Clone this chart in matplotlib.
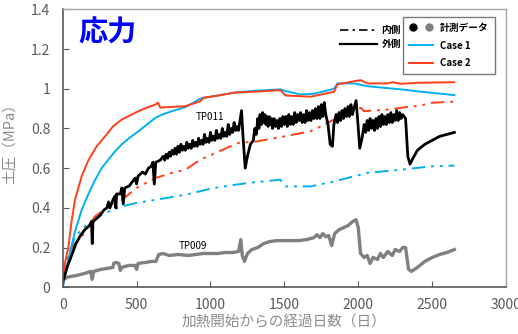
import matplotlib
matplotlib.use("Agg")
import matplotlib.pyplot as plt
from matplotlib.lines import Line2D
from matplotlib.legend_handler import HandlerTuple

plt.rcParams['font.family'] = ['Noto Sans CJK JP', 'DejaVu Sans']

# ---------------- data ----------------
case1_days = [0, 38, 83, 129, 174, 219, 264, 309, 355, 400, 456, 513, 570, 626, 680, 739, 830,
              931, 1000, 1157, 1300, 1474, 1500, 1610, 1700, 1836, 1859, 1971, 2062, 2200, 2288,
              2424, 2492, 2650]
case1_vals = [0.0, 0.14, 0.28, 0.39, 0.47, 0.54, 0.60, 0.643, 0.685, 0.72, 0.755, 0.786, 0.82,
              0.853, 0.872, 0.887, 0.907, 0.95, 0.96, 0.98, 0.99, 0.997, 0.99, 0.971, 0.975, 1.0,
              1.027, 1.027, 1.013, 1.003, 0.997, 0.985, 0.98, 0.968]

case2_days = [0, 15, 38, 60, 83, 129, 174, 230, 287, 340, 400, 456, 513, 570, 626, 645, 660, 700,
              830, 931, 952, 1050, 1157, 1300, 1474, 1508, 1678, 1836, 1859, 1971, 2017, 2062,
              2198, 2232, 2288, 2401, 2650]
case2_vals = [0.0, 0.12, 0.20, 0.33, 0.44, 0.56, 0.64, 0.71, 0.76, 0.81, 0.845, 0.866, 0.887,
              0.905, 0.92, 0.93, 0.905, 0.907, 0.912, 0.937, 0.955, 0.965, 0.98, 0.985, 0.993,
              0.966, 0.96, 0.985, 1.022, 1.038, 1.043, 1.027, 1.027, 1.033, 1.025, 1.03, 1.033]

case2_in_days = [0, 38, 83, 129, 174, 219, 300, 400, 500, 626, 739, 830, 931, 1000, 1135, 1191,
                 1316, 1500, 1678, 1746, 1836, 2017, 2039, 2198, 2288, 2424, 2492, 2650]
case2_in_vals = [0.0, 0.17, 0.22, 0.255, 0.31, 0.357, 0.40, 0.44, 0.50, 0.55, 0.576, 0.592,
                 0.643, 0.665, 0.71, 0.727, 0.735, 0.76, 0.786, 0.81, 0.845, 0.904, 0.887,
                 0.895, 0.904, 0.916, 0.929, 0.935]

case1_in_days = [0, 40, 83, 129, 174, 230, 287, 400, 500, 626, 830, 1022, 1248, 1474, 1490,
                 1508, 1678, 1836, 2062, 2288, 2492, 2650]
case1_in_vals = [0.0, 0.16, 0.255, 0.29, 0.323, 0.35, 0.374, 0.407, 0.425, 0.44, 0.466, 0.50,
                 0.525, 0.542, 0.52, 0.508, 0.508, 0.533, 0.576, 0.592, 0.609, 0.613]

tp011_days = [0, 10, 30, 60, 90, 120, 150, 180, 195, 200, 205, 220, 250, 280, 300, 310, 320, 340,
              355, 360, 365, 390, 400, 410, 420, 450, 470, 490, 500, 510, 540, 560, 580, 600,
              610, 620, 630, 660, 680, 690, 700, 710, 720, 730, 740, 750, 760, 770, 780, 790,
              800, 810, 820, 830, 840, 850, 860, 870, 880, 890, 900, 910, 920, 930, 940, 950,
              960, 970, 980, 990, 1000, 1010, 1020, 1030, 1040, 1050, 1060, 1070, 1080, 1090,
              1100, 1110, 1120, 1130, 1140, 1150, 1160, 1170, 1180, 1190,
              1200, 1210, 1220, 1235, 1250, 1270, 1290, 1300, 1310, 1320, 1328, 1335, 1345,
              1352, 1360, 1368, 1375, 1382, 1390, 1398, 1405, 1412, 1420, 1430, 1440, 1450,
              1460, 1470, 1480, 1490, 1500, 1510, 1520, 1530, 1540, 1550, 1560, 1570, 1580,
              1590, 1600, 1610, 1620, 1630, 1640, 1650, 1660, 1670, 1680, 1690, 1700, 1710,
              1720, 1730, 1740, 1750, 1760, 1770, 1780, 1795, 1810, 1825, 1835, 1850, 1860,
              1870, 1880, 1890, 1900, 1910, 1920, 1930, 1940, 1950, 1960, 1970, 1985, 1995,
              2010, 2025, 2040, 2050, 2060, 2070, 2080, 2090, 2100, 2110, 2120, 2130, 2140,
              2150, 2160, 2170, 2180, 2190, 2200, 2210, 2220, 2230, 2240, 2250, 2260, 2270,
              2280, 2290, 2300, 2320, 2335, 2350, 2370, 2400, 2450, 2500, 2550, 2600, 2650]
tp011_vals = [0.03, 0.05, 0.10, 0.16, 0.22, 0.26, 0.29, 0.31, 0.33, 0.22, 0.33, 0.34, 0.36, 0.39,
              0.40, 0.43, 0.40, 0.44, 0.46, 0.40, 0.47, 0.47, 0.50, 0.42, 0.50, 0.51, 0.53, 0.55,
              0.52, 0.56, 0.58, 0.57, 0.60, 0.61, 0.63, 0.52, 0.63, 0.64, 0.66, 0.64, 0.67, 0.65,
              0.68, 0.66, 0.69, 0.67, 0.70, 0.67, 0.71, 0.68, 0.72, 0.69, 0.71, 0.69, 0.73, 0.70,
              0.72, 0.70, 0.74, 0.71, 0.73, 0.71, 0.75, 0.72, 0.74, 0.72, 0.77, 0.73, 0.75, 0.73,
              0.78, 0.74, 0.76, 0.74, 0.79, 0.75, 0.77, 0.75, 0.80, 0.76, 0.78, 0.76, 0.82, 0.77,
              0.80, 0.78, 0.83, 0.79, 0.81, 0.79,
              0.84, 0.89, 0.76, 0.60, 0.66, 0.72, 0.74, 0.80, 0.77, 0.85, 0.80, 0.87, 0.82,
              0.88, 0.83, 0.87, 0.82, 0.86, 0.81, 0.86, 0.82, 0.85, 0.80, 0.85, 0.81, 0.84,
              0.80, 0.85, 0.81, 0.86, 0.82, 0.86, 0.81, 0.87, 0.82, 0.86, 0.82, 0.88, 0.83,
              0.87, 0.84, 0.88, 0.83, 0.87, 0.83, 0.89, 0.84, 0.88, 0.84, 0.89, 0.85, 0.90,
              0.85, 0.91, 0.85, 0.92, 0.86, 0.93, 0.87, 0.82, 0.72, 0.71, 0.82, 0.87, 0.83,
              0.88, 0.84, 0.89, 0.85, 0.90, 0.86, 0.91, 0.86, 0.92, 0.87, 0.90, 0.94, 0.85,
              0.70, 0.75, 0.82, 0.78, 0.84, 0.79, 0.85, 0.80, 0.84, 0.79, 0.85, 0.80, 0.86,
              0.81, 0.87, 0.82, 0.86, 0.82, 0.87, 0.83, 0.88, 0.83, 0.87, 0.84, 0.89, 0.84,
              0.88, 0.85, 0.87, 0.85, 0.66, 0.62, 0.65, 0.69, 0.72, 0.74, 0.76, 0.77, 0.78]

tp009_days = [0, 30, 60, 100, 150, 190, 200, 210, 260, 300, 340, 345, 360, 380, 390, 400, 450,
              490, 500, 510, 560, 600, 630, 650, 680, 720, 780, 850, 900, 950, 1000, 1050, 1100,
              1150, 1190, 1205, 1215, 1230, 1250, 1280, 1320, 1360, 1400, 1450, 1500, 1550, 1600,
              1650, 1700, 1720, 1740, 1760, 1780, 1800, 1820, 1840, 1870, 1900, 1930, 1960, 1985,
              2000, 2015, 2040, 2060, 2080, 2100, 2130, 2150, 2170, 2200, 2230, 2250, 2280, 2300,
              2320, 2340, 2360, 2400, 2450, 2500, 2550, 2600, 2650]
tp009_vals = [0.035, 0.05, 0.055, 0.06, 0.07, 0.08, 0.04, 0.08, 0.09, 0.095, 0.10, 0.12, 0.125,
              0.12, 0.085, 0.10, 0.11, 0.11, 0.09, 0.12, 0.125, 0.13, 0.13, 0.165, 0.17, 0.16,
              0.165, 0.16, 0.165, 0.17, 0.17, 0.17, 0.175, 0.175, 0.18, 0.24, 0.16, 0.13, 0.17,
              0.19, 0.20, 0.22, 0.23, 0.235, 0.235, 0.235, 0.235, 0.24, 0.25, 0.265, 0.25, 0.27,
              0.255, 0.26, 0.21, 0.27, 0.29, 0.30, 0.31, 0.33, 0.34, 0.30, 0.17, 0.15, 0.16, 0.12,
              0.15, 0.14, 0.17, 0.15, 0.18, 0.16, 0.19, 0.18, 0.20, 0.20, 0.09, 0.08, 0.10, 0.13,
              0.15, 0.165, 0.175, 0.19]

x_ticks = [0, 500, 1000, 1500, 2000, 2500, 3000]
y_ticks = [0, 0.2, 0.4, 0.6, 0.8, 1.0, 1.2, 1.4]
y_ticklabels = ['0', '0.2', '0.4', '0.6', '0.8', '1', '1.2', '1.4']

# ---------------- style ----------------
BLUE = '#00B0F0'
RED = '#FF4019'
GRAY = '#808080'
TXT = '#595959'
dd = (0, (7, 3, 1.5, 3, 1.5, 3))

fig = plt.figure(figsize=(5.18, 3.34), dpi=100)
ax = fig.add_axes([0.121, 0.140, 0.856, 0.832])

ax.plot(case1_in_days, case1_in_vals, color=BLUE, lw=1.4, linestyle=dd)
ax.plot(case2_in_days, case2_in_vals, color=RED, lw=1.4, linestyle=dd)
ax.plot(case1_days, case1_vals, color=BLUE, lw=1.4)
ax.plot(case2_days, case2_vals, color=RED, lw=1.4)
ax.plot(tp009_days, tp009_vals, color=GRAY, lw=2.4)
ax.plot(tp011_days, tp011_vals, color='black', lw=2.0)

ax.set_xlim(0, 3000)
ax.set_ylim(0, 1.4)
ax.set_xticks(x_ticks)
ax.set_yticks(y_ticks)
ax.set_yticklabels(y_ticklabels)
ax.tick_params(direction='in', length=4, color=TXT, labelcolor=TXT, labelsize=10)
ax.tick_params(axis='x', pad=8)
ax.tick_params(axis='y', pad=9)
for s in ['left', 'bottom']:
    ax.spines[s].set_color('#5a5a5a')
    ax.spines[s].set_linewidth(1.2)
for s in ['top', 'right']:
    ax.spines[s].set_color('#a6a6a6')
    ax.spines[s].set_linewidth(1.0)

ax.set_xlabel('加熱開始からの経過日数（日）', color='#8c8c8c', fontsize=10.5, labelpad=2)
fig.text(0.018, 0.58, '土圧（MPa）', rotation=90, color='#8c8c8c', fontsize=10.5,
         ha='center', va='center')

ax.text(0.035, 0.97, '応力', transform=ax.transAxes, fontsize=21, fontweight='bold',
        color='#0000FF', va='top', ha='left')
ax.text(900, 0.858, 'TP011', fontsize=7, color='black', va='center')
ax.text(782, 0.208, 'TP009', fontsize=7, color='black', va='center')

# left legend (line styles)
h_in = Line2D([], [], color='black', lw=1.2, linestyle=(0, (5, 2.5, 1.5, 2.5)))
h_out = Line2D([], [], color='black', lw=1.6)
leg1 = ax.legend([h_in, h_out], ['内側', '外側'], loc='upper left',
                 bbox_to_anchor=(0.605, 0.975), frameon=False, handlelength=3.8,
                 handletextpad=0.5, labelspacing=0.45, prop={'size': 7, 'weight': 'bold'})
ax.add_artist(leg1)

# right legend (series)
d1 = Line2D([], [], marker='o', color='black', linestyle='none', markersize=5)
d2 = Line2D([], [], marker='o', color=GRAY, linestyle='none', markersize=5)
h_c1 = Line2D([], [], color=BLUE, lw=1.4)
h_c2 = Line2D([], [], color=RED, lw=1.4)
leg2 = ax.legend([(d1, d2), h_c1, h_c2], ['計測データ', 'Case 1', 'Case 2'],
                 handler_map={tuple: HandlerTuple(ndivide=None, pad=0.8)},
                 loc='upper right', bbox_to_anchor=(0.985, 0.99), frameon=True,
                 fancybox=False, edgecolor='#595959', handlelength=2.5, handletextpad=0.7,
                 labelspacing=0.8, borderpad=0.6, prop={'size': 7, 'weight': 'bold'})
leg2.get_frame().set_linewidth(1.0)

fig.savefig('out.png', dpi=100)
